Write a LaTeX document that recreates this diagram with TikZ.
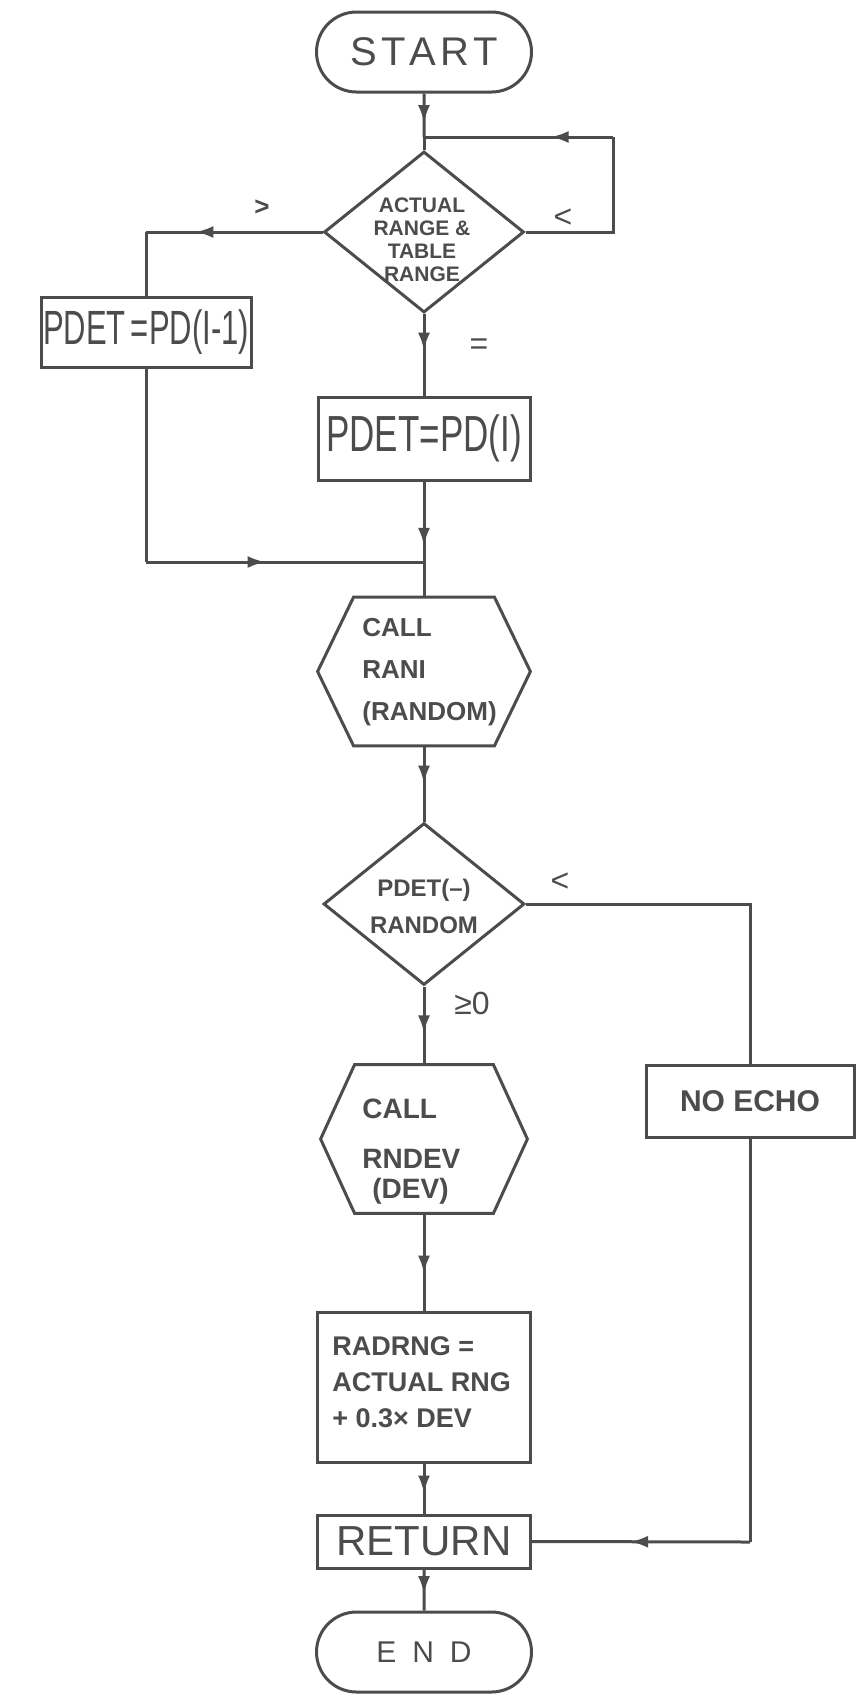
\documentclass[tikz,border=0pt]{standalone}
\usepackage{fontspec}
\setmainfont{Liberation Sans}
\usepackage{graphicx}
\usetikzlibrary{shapes.geometric,shapes.misc,arrows.meta,decorations.markings}
\definecolor{ink}{rgb}{0.30,0.30,0.30}
\begin{document}
\begin{tikzpicture}[x=0.5pt,y=-0.5pt,
  conn/.style={ink,line width=1.5pt},
  arr/.style={postaction={decorate},decoration={markings,mark=at position #1 with {\arrow{Latex[length=9pt,width=6pt]}}}},
  shp/.style={draw=ink,line width=1.5pt,inner sep=0pt,text=ink},
  term/.style={shp,rounded rectangle,minimum width=107.5pt,minimum height=40pt},
  procbox/.style={shp,rectangle},
  dia/.style={shp,diamond},
  hexbase/.style={inner sep=0pt,minimum width=70pt,minimum height=74pt},
  txt/.style={text=ink,inner sep=0pt},
]
\fill[white] (0,0) rectangle (863,1705);
\useasboundingbox (0,0) rectangle (863,1705);

% nodes
\node[term,font=\fontsize{20}{24}\selectfont] (start) at (424,52) {S\kern2pt T\kern2pt A\kern2pt R\kern2pt T};
\coordinate (j1) at (424,137);
\node[dia,minimum width=100pt,minimum height=80.5pt] (d1) at (424,232) {};
\node[txt,align=center,font=\bfseries\fontsize{10.5}{11.5}\selectfont] (d1t) at (422,240) {ACTUAL\\RANGE \&\\TABLE\\RANGE};
\node[procbox,minimum width=105pt,minimum height=35pt] (b1) at (146,332) {\scalebox{1}[1.55]{\fontsize{15.5}{18}\selectfont PDET\,=PD(I-1)}};
\node[procbox,minimum width=106pt,minimum height=41.5pt] (b2) at (424,438.5) {\scalebox{1}[1.45]{\fontsize{17.5}{20}\selectfont PDET=PD(I)}};
\coordinate (cR1) at (613,232);
\coordinate (cR2) at (613,137);
\coordinate (cL1) at (146,232);
\coordinate (cL2) at (146,562);
\coordinate (j2) at (424,562);

\node[hexbase] (h1) at (424,671.5) {};
\draw[conn] (h1.north west) -- (h1.north east) -- ([xshift=18pt]h1.east) -- (h1.south east) -- (h1.south west) -- ([xshift=-18pt]h1.west) -- cycle;
\node[txt,anchor=west,align=left,font=\bfseries\fontsize{13}{21}\selectfont] (h1t) at (362,672) {CALL\\RANI\\(RANDOM)};

\node[dia,minimum width=100.5pt,minimum height=81pt] (d2) at (424,904) {};
\node[txt,align=center,font=\bfseries\fontsize{12}{18.5}\selectfont] (d2t) at (424,906) {PDET(–)\\RANDOM};
\coordinate (cR3) at (750,904);

\node[hexbase,minimum width=69pt] (h2) at (424,1139) {};
\draw[conn] (h2.north west) -- (h2.north east) -- ([xshift=17pt]h2.east) -- (h2.south east) -- (h2.south west) -- ([xshift=-17pt]h2.west) -- cycle;
\node[txt,anchor=west,align=left,font=\bfseries\fontsize{14}{15}\selectfont] (h2t) at (362,1152) {CALL\\[10pt]RNDEV\\\hspace{5pt}(DEV)};

\node[procbox,minimum width=104pt,minimum height=36pt,font=\bfseries\fontsize{15}{18}\selectfont] (ne) at (750,1101) {NO ECHO};

\node[procbox,minimum width=106.5pt,minimum height=75pt] (rad) at (424,1387) {};
\node[txt,anchor=west,align=left,font=\bfseries\fontsize{13.5}{18}\selectfont] (radt) at (332,1382) {RADRNG =\\ACTUAL RNG\\+ 0.3× DEV};

\node[procbox,minimum width=106.5pt,minimum height=26.5pt,font=\fontsize{21}{24}\selectfont] (ret) at (424,1541.5) {RETURN};
\coordinate (cR4) at (750,1542);

\node[term,minimum height=40pt,font=\fontsize{15}{18}\selectfont] (end) at (424,1652) {E\kern8pt N\kern8pt D};

% connectors
\draw[conn,arr=0.68] (start) -- (j1);
\draw[conn] (j1) -- (d1);
\draw[conn] (d1.east) -- (cR1) -- (cR2);
\draw[conn,arr=0.33] (cR2) -- (j1);
\draw[conn,arr=0.72] (d1.west) -- (cL1);
\draw[conn] (cL1) -- (b1);
\draw[conn,arr=0.45] (d1) -- (b2);
\draw[conn] (b1) -- (cL2);
\draw[conn,arr=0.43] (cL2) -- (j2);
\draw[conn,arr=0.8] (b2) -- (j2);
\draw[conn] (j2) -- (h1);
\draw[conn,arr=0.5] (h1) -- (d2);
\draw[conn,arr=0.6] (d2) -- (h2);
\draw[conn] (d2.east) -- (cR3) -- (ne);
\draw[conn,arr=0.62] (h2) -- (rad);
\draw[conn,arr=0.6] (rad) -- (ret);
\draw[conn] (ne) -- (cR4);
\draw[conn,arr=0.55] (cR4) -- (ret.east);
\draw[conn,arr=0.6] (ret) -- (end);

% branch labels
\node[txt,font=\bfseries\fontsize{13}{13}\selectfont] (lgt) at (262,208) {>};
\node[txt,font=\fontsize{16}{16}\selectfont] (llt1) at (563,218) {<};
\node[txt,font=\fontsize{16}{16}\selectfont] (leq) at (479,347) {=};
\node[txt,font=\fontsize{16}{16}\selectfont] (llt2) at (560,882) {<};
\node[txt,font=\fontsize{16}{16}\selectfont] (lge) at (472,1003) {≥0};
\end{tikzpicture}
\end{document}
